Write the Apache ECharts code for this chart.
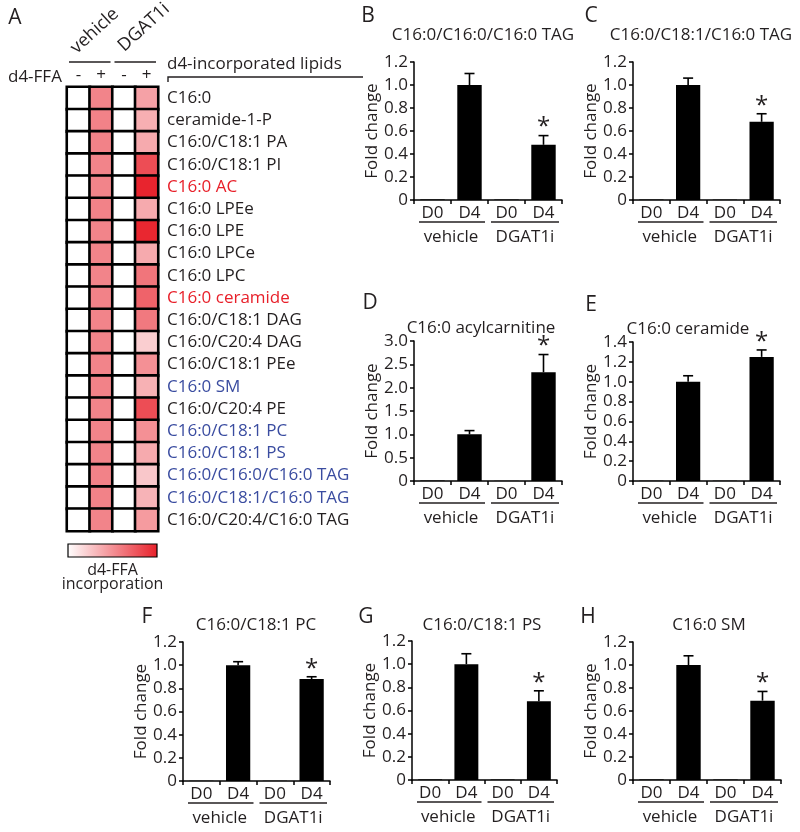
<!DOCTYPE html>
<html><head><meta charset="utf-8">
<script src="https://cdn.jsdelivr.net/npm/echarts@6/dist/echarts.min.js"></script>
<style>html,body{margin:0;padding:0;background:#fff}#c{width:800px;height:832px}</style>
</head><body><div id="c"></div>
<script>
// ---------- DATA ----------
const lipids = ['C16:0','ceramide-1-P','C16:0/C18:1 PA','C16:0/C18:1 PI','C16:0 AC','C16:0 LPEe','C16:0 LPE','C16:0 LPCe','C16:0 LPC','C16:0 ceramide','C16:0/C18:1 DAG','C16:0/C20:4 DAG','C16:0/C18:1 PEe','C16:0 SM','C16:0/C20:4 PE','C16:0/C18:1 PC','C16:0/C18:1 PS','C16:0/C16:0/C16:0 TAG','C16:0/C18:1/C16:0 TAG','C16:0/C20:4/C16:0 TAG'];
const redLipids = ['C16:0 AC','C16:0 ceramide'];
const blueLipids = ['C16:0 SM','C16:0/C18:1 PC','C16:0/C18:1 PS','C16:0/C16:0/C16:0 TAG','C16:0/C18:1/C16:0 TAG'];
const ffaCols = ['-','+','-','+'];
const heatGroups = ['vehicle','DGAT1i'];
const vehicleMinus = [0,0,0,0,0,0,0,0,0,0,0,0,0,0,0,0,0,0,0,0];
const vehiclePlus  = [0.55,0.56,0.56,0.55,0.55,0.56,0.55,0.55,0.55,0.56,0.55,0.55,0.55,0.56,0.55,0.55,0.55,0.56,0.56,0.55];
const dgatMinus    = [0,0,0,0,0,0,0,0,0,0,0,0,0,0,0,0,0,0,0,0];
const dgatPlus     = [0.42,0.36,0.38,0.80,0.98,0.38,0.97,0.38,0.62,0.70,0.60,0.22,0.50,0.35,0.80,0.50,0.38,0.25,0.34,0.45];

const barCats = ['D0','D4','D0','D4'];
const barGroups = ['vehicle','DGAT1i'];
const panelLetters = ['B','C','D','E','F','G','H'];
const panelTitles = ['C16:0/C16:0/C16:0 TAG','C16:0/C18:1/C16:0 TAG','C16:0 acylcarnitine','C16:0 ceramide','C16:0/C18:1 PC','C16:0/C18:1 PS','C16:0 SM'];
const tag161616Mean = [0.005,1.00,0.004,0.48]; const tag161616Err = [0,0.10,0,0.08];
const tag161816Mean = [0.004,1.00,0.003,0.68]; const tag161816Err = [0,0.06,0,0.07];
const acylcarnMean  = [0.01,1.00,0.004,2.33];  const acylcarnErr  = [0,0.08,0,0.38];
const ceramideMean  = [0.003,1.00,0.003,1.25]; const ceramideErr  = [0,0.06,0,0.07];
const pcMean        = [0.002,1.00,0.002,0.88]; const pcErr        = [0,0.03,0,0.02];
const psMean        = [0.005,1.00,0.004,0.68]; const psErr        = [0,0.09,0,0.09];
const smMean        = [0.005,1.00,0.004,0.69]; const smErr        = [0,0.08,0,0.08];
const starFlags = [0,0,0,1];
const axisMax = [1.2,1.2,3.0,1.4,1.2,1.2,1.2];
const axisStep = [0.2,0.2,0.5,0.2,0.2,0.2,0.2];

// ---------- LAYOUT ----------
const FONT = "'Open Sans','Noto Sans',sans-serif";
const means = [tag161616Mean,tag161816Mean,acylcarnMean,ceramideMean,pcMean,psMean,smMean];
const errs  = [tag161616Err,tag161816Err,acylcarnErr,ceramideErr,pcErr,psErr,smErr];
const heatGrid = {left:67, top:87, width:91, height:444};
const barGrids = [
  {left:414, top:62, width:148, height:138},
  {left:633, top:62, width:147, height:138},
  {left:414, top:341, width:148, height:140},
  {left:633, top:342, width:147, height:139},
  {left:183, top:642, width:147, height:139},
  {left:412, top:641, width:145, height:139},
  {left:633, top:642, width:148, height:138}
];
const letterPos = [[368,16],[591,16],[370,303],[591,305],[147,617],[366,617],[588,617]];
const titlePos = [[483,35],[701,35],[481,328],[688,329],[256,625],[482,625],[709,625]];

const chart = echarts.init(document.getElementById('c'), null, {renderer:'canvas'});

const grids = [heatGrid].concat(barGrids);
const xAxes = [{
  gridIndex:0, type:'category', data:ffaCols, position:'top',
  axisLine:{show:false}, axisTick:{show:false},
  axisLabel:{fontSize:17, fontFamily:FONT, color:'#231f20', margin:3}
}];
const yAxes = [{
  gridIndex:0, type:'category', data:lipids, inverse:true, position:'right',
  axisLine:{show:false}, axisTick:{show:false},
  axisLabel:{fontSize:17, fontFamily:FONT, margin:9, align:'left',
    color:function(v){ return redLipids.indexOf(v)>=0 ? '#e8202a' : (blueLipids.indexOf(v)>=0 ? '#3a4ca0' : '#231f20'); }}
}];
const heatData = [];
[vehicleMinus, vehiclePlus, dgatMinus, dgatPlus].forEach(function(col, ci){
  col.forEach(function(v, ri){ heatData.push([ci, ri, v]); });
});
const series = [{
  type:'heatmap', xAxisIndex:0, yAxisIndex:0, data:heatData,
  itemStyle:{borderColor:'#000', borderWidth:2.6},
  emphasis:{disabled:true}, silent:true
}];

function errRender(params, api){
  const x = api.value(0), m = api.value(1), e = api.value(2), s = api.value(3);
  const ch = [];
  const p1 = api.coord([x, m+e]);
  if (e > 0) {
    const p0 = api.coord([x, m]);
    ch.push({type:'line', shape:{x1:p0[0],y1:p0[1],x2:p1[0],y2:p1[1]}, style:{stroke:'#000',lineWidth:1.6}});
    ch.push({type:'line', shape:{x1:p1[0]-5,y1:p1[1],x2:p1[0]+5,y2:p1[1]}, style:{stroke:'#000',lineWidth:1.6}});
  }
  if (s) {
    ch.push({type:'text', style:{text:'*', x:p1[0], y:p1[1]-8, align:'center', verticalAlign:'middle', font:'24px '+FONT, fill:'#231f20'}});
  }
  return {type:'group', children:ch};
}

barGrids.forEach(function(g, i){
  const k = i+1;
  xAxes.push({
    gridIndex:k, type:'category', data:barCats,
    axisLine:{lineStyle:{color:'#000', width:1.5}},
    axisTick:{show:true, length:4, lineStyle:{color:'#000', width:1.5}},
    axisLabel:{fontSize:17, fontFamily:FONT, color:'#231f20', margin:5}
  });
  yAxes.push({
    gridIndex:k, type:'value', min:0, max:axisMax[i], interval:axisStep[i],
    name:'Fold change', nameLocation:'middle', nameGap:28,
    nameTextStyle:{fontSize:17, fontFamily:FONT, color:'#231f20'},
    axisLine:{show:true, lineStyle:{color:'#000', width:1.5}},
    axisTick:{show:true, length:4, lineStyle:{color:'#000', width:1.5}},
    splitLine:{show:false},
    axisLabel:{fontSize:17, fontFamily:FONT, color:'#231f20', margin:6,
      formatter:function(v){ return v===0 ? '0' : v.toFixed(1); }}
  });
  series.push({
    type:'bar', xAxisIndex:k, yAxisIndex:k, data:means[i], barWidth:'66%',
    itemStyle:{color:'#000'}, silent:true
  });
  series.push({
    type:'custom', xAxisIndex:k, yAxisIndex:k, renderItem:errRender, silent:true, z:5,
    encode:{x:0, y:1},
    data:means[i].map(function(m, j){ return [j, m, errs[i][j], starFlags[j]]; })
  });
});

chart.setOption({
  animation:false,
  backgroundColor:'#fff',
  grid:grids,
  xAxis:xAxes,
  yAxis:yAxes,
  visualMap:{type:'continuous', min:0, max:1, show:false, seriesIndex:0,
    inRange:{color:['#ffffff','#e8202a']}},
  series:series
});

// ---------- ANNOTATIONS (positions derived from axes) ----------
const gfx = [];
function txt(t, x, y, size, opts){
  const st = Object.assign({text:t, x:x, y:y, font:size+'px '+FONT, fill:'#231f20', align:'center', verticalAlign:'middle'}, opts||{});
  const el = {type:'text', silent:true, style:st};
  gfx.push(el);
  return el;
}
function line(x1,y1,x2,y2,w){
  gfx.push({type:'line', silent:true, shape:{x1:x1,y1:y1,x2:x2,y2:y2}, style:{stroke:'#231f20', lineWidth:w||1.4}});
}
// panel A
txt('A', 15, 18, 21);
const hp = function(c, r){ return chart.convertToPixel({xAxisIndex:0, yAxisIndex:0}, [c, r]); };
const c0 = hp(0,0), c1 = hp(1,0), c2 = hp(2,0), c3 = hp(3,0);
const cw = c1[0]-c0[0];
const gTop = heatGrid.top, gBot = heatGrid.top + heatGrid.height;
const gL = c0[0]-cw/2, gR = c3[0]+cw/2;
line(gL+2, gTop-25, c1[0]+cw/2-2, gTop-25);
line(c2[0]-cw/2+2, gTop-25, gR-2, gTop-25);
const vt = txt(heatGroups[0], 0, 0, 18, {align:'left', verticalAlign:'bottom'});
vt.rotation = 0.74; vt.x = c0[0]+1; vt.y = gTop-30;
const dt = txt(heatGroups[1], 0, 0, 18, {align:'left', verticalAlign:'bottom'});
dt.rotation = 0.74; dt.x = c2[0]+3; dt.y = gTop-32;
txt('d4-FFA', 8, gTop-10, 17, {align:'left'});
txt('d4-incorporated lipids', gR+9, gTop-23, 17, {align:'left'});
gfx.push({type:'polyline', silent:true, shape:{points:[[gR+10,gTop-5],[gR+10,gTop-10],[gR+205,gTop-10]]}, style:{stroke:'#231f20', lineWidth:1.4, fill:null}});
// colorbar
gfx.push({type:'rect', silent:true, shape:{x:gL+1, y:gBot+13, width:gR-gL-2, height:13},
  style:{fill:new echarts.graphic.LinearGradient(0,0,1,0,[{offset:0,color:'#ffffff'},{offset:1,color:'#e8202a'}]), stroke:'#000', lineWidth:1.2}});
txt('d4-FFA', (gL+gR)/2, gBot+39, 16);
txt('incorporation', (gL+gR)/2, gBot+53, 16);

// bar panels
barGrids.forEach(function(g, i){
  const k = i+1;
  txt(panelLetters[i], letterPos[i][0], letterPos[i][1], 21);
  txt(panelTitles[i], titlePos[i][0], titlePos[i][1], 17);
  const p0 = chart.convertToPixel({xAxisIndex:k, yAxisIndex:k}, [0, 0]);
  const p1 = chart.convertToPixel({xAxisIndex:k, yAxisIndex:k}, [1, 0]);
  const p2 = chart.convertToPixel({xAxisIndex:k, yAxisIndex:k}, [2, 0]);
  const p3 = chart.convertToPixel({xAxisIndex:k, yAxisIndex:k}, [3, 0]);
  const bw = p1[0]-p0[0];
  const yb = p0[1];
  line(p0[0]-bw/2+5, yb+22, p1[0]+bw/2-3, yb+22, 1.4);
  line(p2[0]-bw/2+3, yb+22, p3[0]+bw/2-3, yb+22, 1.4);
  txt(barGroups[0], (p0[0]+p1[0])/2, yb+37, 17);
  txt(barGroups[1], (p2[0]+p3[0])/2, yb+37, 17);
});
chart.setOption({graphic:gfx});
</script>
</body></html>
